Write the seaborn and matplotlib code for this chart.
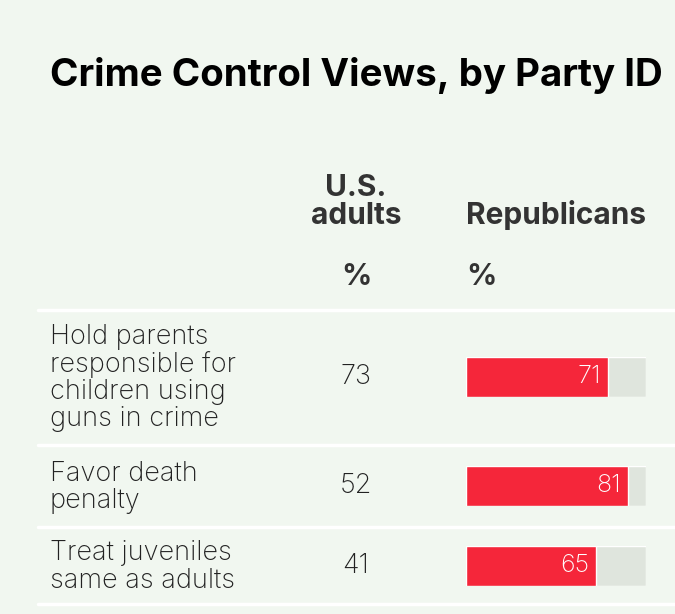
import numpy as np
import pandas as pd
import seaborn as sns
import matplotlib.pyplot as plt

# chart data
title = "Crime Control Views, by Party ID"
statements = [
    "Hold parents\nresponsible for\nchildren using\nguns in crime",
    "Favor death\npenalty",
    "Treat juveniles\nsame as adults",
]
us_adults = [73, 52, 41]
republicans = [71, 81, 65]
track_max = 90

W, H = 675, 614
BG = "#f1f7f0"
RED = "#f5263a"
TRACK = "#dfe5dd"
DARK = "#222222"

sns.set_theme(style="white")
plt.rcParams["font.family"] = ["Inter", "DejaVu Sans"]

fig = plt.figure(figsize=(W / 100, H / 100), dpi=100)
fig.patch.set_facecolor(BG)


def px(x, y):
    return x / W, 1 - y / H


fig.text(*px(50, 86), title, fontsize=27.7, fontweight="bold", color="#000000",
         ha="left", va="baseline")

# column headers
hdr = dict(fontsize=21.5, fontweight="bold", color="#333333", va="baseline")
fig.text(*px(356, 224), "U.S.\nadults", ha="center", linespacing=1.0, **hdr)
fig.text(*px(466, 224), "Republicans", ha="left", **hdr)
fig.text(*px(356, 285), "%", ha="center", **hdr)
fig.text(*px(466, 285), "%", ha="left", **hdr)

# row separators
for y in [310, 445, 527, 604]:
    fig.add_artist(plt.Line2D([38 / W, 1], [1 - y / H, 1 - y / H], color="white", lw=2.5))

row_centers = [377, 486, 566]
for i, (label, us, rep) in enumerate(zip(statements, us_adults, republicans)):
    yc = row_centers[i]
    fig.text(*px(50, yc + 1), label, fontsize=19.5, fontweight="light", color=DARK,
             ha="left", va="center", linespacing=1.06)
    fig.text(*px(356, yc), str(us), fontsize=19.5, fontweight="light", color=DARK,
             ha="center", va="center")

    ax = fig.add_axes([466 / W, 1 - (yc + 20) / H, 180 / W, 40 / H])
    row = pd.DataFrame({"item": [label], "value": [rep], "track": [track_max]})
    sns.barplot(data=row, x="track", y="item", color=TRACK, width=1.0, ax=ax,
                saturation=1)
    sns.barplot(data=row, x="value", y="item", color=RED, width=1.0, ax=ax,
                saturation=1)
    ax.set_xlim(0, track_max)
    ax.set_ylim(0.5, -0.5)
    ax.axis("off")
    ax.text(rep - 3.5, 0, str(rep), color="white", fontsize=18, fontweight="light",
            ha="right", va="center")

fig.savefig("out.png", dpi=100, facecolor=BG)
